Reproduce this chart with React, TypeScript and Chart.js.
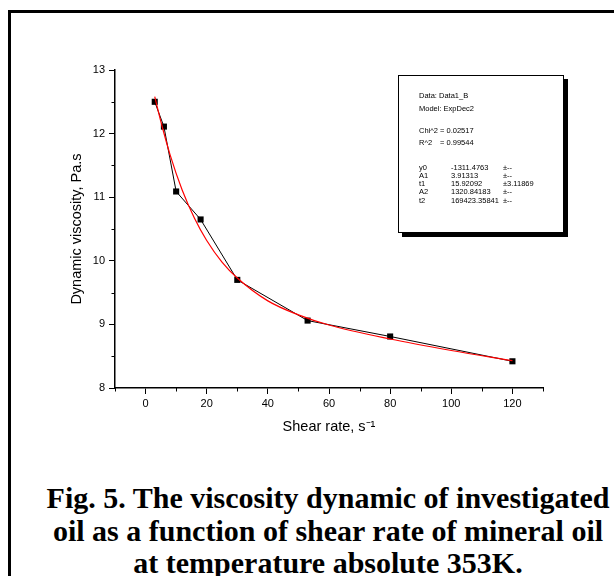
import React, { useEffect, useRef } from "react";
import { Chart, registerables } from "chart.js";
Chart.register(...registerables);

// measured data (black squares)
const shearRate = [3, 6, 10, 18, 30, 53, 80, 120];
const viscosity = [12.5, 12.11, 11.09, 10.65, 9.7, 9.06, 8.81, 8.42];
// fitted curve (red line)
const fitShearRate = [3, 5, 8, 12, 16, 20, 25, 30, 40, 50, 60, 80, 100, 120];
const fitViscosity = [12.58, 12.19, 11.67, 11.11, 10.67, 10.32, 9.98, 9.73, 9.37, 9.15, 8.99, 8.77, 8.59, 8.43];
// axis ticks
const xTickValues = [0, 20, 40, 60, 80, 100, 120];
const xMinorValues = [-10, 10, 30, 50, 70, 90, 110, 130];
const yTickValues = [8, 9, 10, 11, 12, 13];
const yMinorValues = [8.5, 9.5, 10.5, 11.5, 12.5];
// texts
const xTitle = "Shear rate, s\u207B\u00B9";
const yTitle = "Dynamic viscosity, Pa.s";
const statsHeader = ["Data: Data1_B", "Model: ExpDec2"];
const statsFit = [["Chi^2", "= 0.02517"], ["R^2", "= 0.99544"]];
const statsParams = [
  ["y0", "-1311.4763", "\u00B1--"],
  ["A1", "3.91313", "\u00B1--"],
  ["t1", "15.92092", "\u00B13.11869"],
  ["A2", "1320.84183", "\u00B1--"],
  ["t2", "169423.35841", "\u00B1--"],
];
const captionLines = [
  "Fig. 5. The viscosity dynamic of investigated",
  "oil as a function of shear rate of mineral oil",
  "at temperature absolute 353K.",
];

const SANS = "'Liberation Sans', Arial, sans-serif";

const minorTicks = {
  id: "minorTicks",
  afterDraw(chart: any) {
    const { ctx, scales } = chart;
    const x = scales.x;
    const y = scales.y;
    ctx.save();
    ctx.strokeStyle = "#000";
    ctx.lineWidth = 1;
    ctx.beginPath();
    for (const v of xMinorValues) {
      const px = Math.round(x.getPixelForValue(v)) + 0.5;
      ctx.moveTo(px, y.bottom);
      ctx.lineTo(px, y.bottom + 3.5);
    }
    for (const v of yMinorValues) {
      const py = Math.round(y.getPixelForValue(v)) + 0.5;
      ctx.moveTo(x.left, py);
      ctx.lineTo(x.left - 3.5, py);
    }
    ctx.stroke();
    ctx.restore();
  },
};

export default function App() {
  const ref = useRef<HTMLCanvasElement | null>(null);
  useEffect(() => {
    if (!ref.current) return;
    const chart = new Chart(ref.current, {
      type: "line",
      data: {
        datasets: [
          {
            label: "fit",
            data: fitShearRate.map((x, i) => ({ x, y: fitViscosity[i] })),
            borderColor: "#ff0000",
            borderWidth: 1.2,
            pointRadius: 0,
            cubicInterpolationMode: "monotone",
            fill: false,
          },
          {
            label: "data",
            data: shearRate.map((x, i) => ({ x, y: viscosity[i] })),
            borderColor: "#000",
            borderWidth: 1,
            pointStyle: "rect",
            pointRadius: 4.3,
            pointBackgroundColor: "#000",
            pointBorderWidth: 0,
            tension: 0,
            fill: false,
          },
        ],
      },
      options: {
        animation: false,
        responsive: false,
        devicePixelRatio: 1,
        layout: { padding: { left: 68, top: 70, right: 71, bottom: 4 } },
        plugins: { legend: { display: false }, tooltip: { enabled: false } },
        scales: {
          x: {
            type: "linear",
            min: -10,
            max: 130,
            afterBuildTicks: (s: any) => {
              s.ticks = xTickValues.map((v) => ({ value: v }));
            },
            afterFit: (s: any) => {
              s.height = 48;
            },
            grid: { drawOnChartArea: false, drawTicks: true, tickLength: 6, tickColor: "#000", tickWidth: 1 },
            border: { display: true, color: "#000", width: 1.5 },
            ticks: { color: "#000", font: { family: SANS, size: 11 }, padding: 3, maxRotation: 0, autoSkip: false },
            title: { display: true, text: xTitle, color: "#000", font: { family: SANS, size: 14.5 }, padding: 0 },
          },
          y: {
            type: "linear",
            min: 8,
            max: 13,
            afterBuildTicks: (s: any) => {
              s.ticks = yTickValues.map((v) => ({ value: v }));
            },
            afterFit: (s: any) => {
              s.width = 47;
            },
            grid: { drawOnChartArea: false, drawTicks: true, tickLength: 6, tickColor: "#000", tickWidth: 1 },
            border: { display: true, color: "#000", width: 1.5 },
            ticks: { color: "#000", font: { family: SANS, size: 11 }, padding: 4, autoSkip: false },
            title: { display: true, text: yTitle, color: "#000", font: { family: SANS, size: 14.5 }, padding: 0 },
          },
        },
      },
      plugins: [minorTicks],
    } as any);
    return () => chart.destroy();
  }, []);

  const rowStyle = (top: number): React.CSSProperties => ({
    position: "absolute",
    top,
    left: 20,
    right: 0,
    height: 9,
    lineHeight: "9px",
  });

  return (
    <div
      style={{
        position: "absolute",
        left: 0,
        top: 0,
        width: 614,
        height: 576,
        overflow: "hidden",
        background: "#fff",
      }}
    >
      <div
        style={{
          position: "absolute",
          left: 8,
          top: 10,
          width: 700,
          height: 700,
          borderLeft: "3px solid #000",
          borderTop: "3px solid #000",
          boxSizing: "border-box",
        }}
      />
      <canvas ref={ref} width={614} height={440} style={{ position: "absolute", left: 0, top: 0, width: 614, height: 440 }} />
      <div
        style={{
          position: "absolute",
          left: 398,
          top: 75,
          width: 166,
          height: 158,
          border: "1px solid #000",
          boxSizing: "border-box",
          background: "#fff",
          boxShadow: "4px 4px 0 #000",
          fontFamily: SANS,
          fontSize: 7.5,
          color: "#000",
          whiteSpace: "nowrap",
        }}
      >
        {statsHeader.map((t, i) => (
          <div key={t} style={rowStyle(14.5 + i * 13)}>
            {t}
          </div>
        ))}
        {statsFit.map((r, i) => (
          <div key={r[0]} style={rowStyle(49.5 + i * 12)}>
            <span style={{ position: "absolute", left: 0 }}>{r[0]}</span>
            <span style={{ position: "absolute", left: 21 }}>{r[1]}</span>
          </div>
        ))}
        {statsParams.map((r, i) => (
          <div key={r[0]} style={rowStyle(86.5 + i * 8.3)}>
            <span style={{ position: "absolute", left: 0 }}>{r[0]}</span>
            <span style={{ position: "absolute", left: 32 }}>{r[1]}</span>
            <span style={{ position: "absolute", left: 84 }}>{r[2]}</span>
          </div>
        ))}
      </div>
      <div
        style={{
          position: "absolute",
          left: 28,
          width: 600,
          top: 482,
          textAlign: "center",
          fontFamily: "'Liberation Serif', 'Times New Roman', serif",
          fontWeight: "bold",
          fontSize: 30,
          lineHeight: "32.5px",
          color: "#000",
          whiteSpace: "nowrap",
        }}
      >
        {captionLines.map((l) => (
          <div key={l}>{l}</div>
        ))}
      </div>
    </div>
  );
}
